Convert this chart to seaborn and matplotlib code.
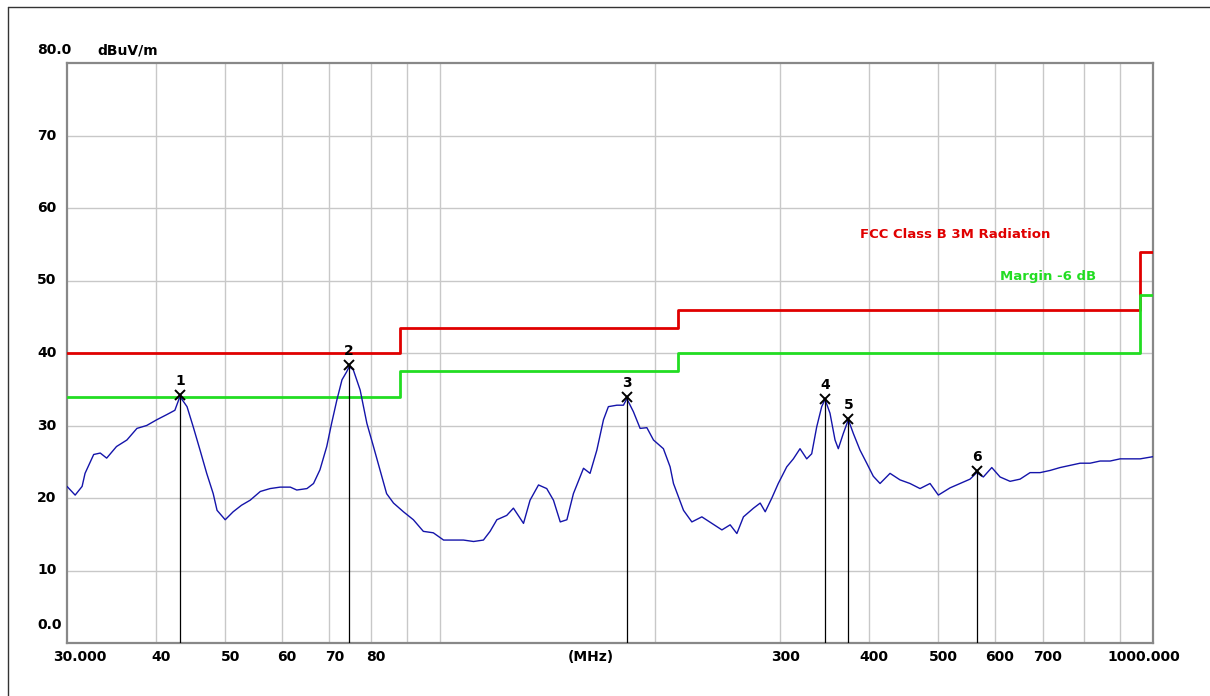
import numpy as np
import pandas as pd
import matplotlib
matplotlib.use("Agg")
import matplotlib.pyplot as plt
import matplotlib.transforms as mtransforms
from matplotlib.lines import Line2D
import seaborn as sns

# --- measured trace (MHz, dBuV/m) ---
freq_mhz = [30.0, 30.8, 31.5, 31.8, 32.7, 33.4, 34.1, 35.2, 36.4, 37.6, 38.8, 40.1,
            41.4, 42.5, 43.2, 44.2, 45.1, 46.1, 47.1, 48.1, 48.7, 50.0, 51.3, 52.7,
            54.2, 56.0, 57.8, 59.7, 61.7, 63.0, 65.1, 66.5, 67.9, 69.4, 70.5, 71.7,
            72.9, 74.0, 74.6, 75.6, 77.3, 79.0, 80.7, 82.4, 84.2, 86.1, 88.9, 91.8,
            94.8, 97.9, 101.2, 104.5, 107.9, 111.5, 115.1, 117.6, 120.2, 124.1, 126.8,
            131.0, 133.8, 137.5, 141.2, 144.3, 147.5, 150.7, 153.9, 159.0, 162.4,
            166.0, 169.6, 172.3, 177.1, 180.9, 182.9, 186.8, 190.9, 195.1, 199.3,
            205.8, 210.3, 212.6, 216.0, 219.6, 225.6, 233.0, 240.7, 248.6, 255.3,
            260.9, 266.5, 275.3, 281.3, 285.9, 292.1, 298.2, 306.5, 313.1, 319.9,
            326.9, 332.2, 337.6, 343.1, 346.8, 352.4, 358.2, 362.0, 367.9, 373.9,
            380.0, 388.3, 396.8, 405.3, 414.2, 427.8, 441.8, 456.3, 471.3, 486.8,
            500.0, 519.3, 536.3, 553.9, 566.0, 578.2, 594.2, 610.3, 630.3, 651.0,
            672.4, 694.4, 717.3, 740.8, 765.2, 790.3, 816.2, 843.1, 870.8, 899.3,
            928.9, 959.4, 1000.0]
level_dbuv = [21.6, 20.4, 21.6, 23.4, 26.0, 26.2, 25.5, 27.1, 28.0, 29.6, 30.0, 30.8,
              31.5, 32.1, 34.0, 32.6, 29.8, 26.6, 23.4, 20.6, 18.3, 17.0, 18.1, 19.0,
              19.7, 20.9, 21.3, 21.5, 21.5, 21.1, 21.3, 22.0, 23.9, 27.1, 30.3, 33.5,
              36.3, 37.4, 38.1, 37.7, 34.9, 30.3, 27.1, 23.9, 20.6, 19.3, 18.1, 17.0,
              15.4, 15.2, 14.2, 14.2, 14.2, 14.0, 14.2, 15.4, 17.0, 17.6, 18.6, 16.5,
              19.7, 21.8, 21.3, 19.7, 16.7, 17.0, 20.6, 24.1, 23.4, 26.6, 30.8, 32.6,
              32.8, 32.8, 33.7, 31.9, 29.6, 29.7, 28.0, 26.8, 24.3, 22.0, 20.2, 18.3,
              16.7, 17.4, 16.5, 15.6, 16.3, 15.1, 17.4, 18.6, 19.3, 18.1, 20.0, 22.0,
              24.3, 25.4, 26.8, 25.4, 26.1, 29.8, 32.6, 33.6, 31.7, 28.0, 26.8, 28.9,
              30.8, 28.9, 26.6, 24.8, 23.0, 22.0, 23.4, 22.5, 22.0, 21.3, 22.0, 20.4,
              21.4, 22.0, 22.6, 23.5, 22.9, 24.2, 22.9, 22.3, 22.6, 23.5, 23.5, 23.8,
              24.2, 24.5, 24.8, 24.8, 25.1, 25.1, 25.4, 25.4, 25.4, 25.7]

# --- limit lines ---
limit_freq = [30, 88, 216, 960, 1000]
fcc_limit = [40.0, 43.5, 46.0, 54.0, 54.0]
margin_limit = [34.0, 37.5, 40.0, 48.0, 48.0]

# --- peak markers ---
peak_no = ["1", "2", "3", "4", "5", "6"]
peak_freq = [43.2, 74.6, 182.9, 346.8, 373.9, 566.0]
peak_level = [34.2, 38.3, 33.9, 33.7, 30.9, 23.7]

# --- axis labels ---
x_ticks = [30, 40, 50, 60, 70, 80, 300, 400, 500, 600, 700, 1000]
x_labels = ["30.000", "40", "50", "60", "70", "80", "300", "400", "500", "600", "700", "1000.000"]
y_ticks = [10, 20, 30, 40, 50, 60, 70]
grid_x = [40, 50, 60, 70, 80, 90, 100, 200, 300, 400, 500, 600, 700, 800, 900]

sns.set_style("white")
plt.rcParams["font.family"] = ["DejaVu Sans"]
plt.rcParams["text.color"] = "black"

W, H = 1210, 696
fig = plt.figure(figsize=(W / 100, H / 100), dpi=100)
ax = fig.add_axes([67 / W, 1 - 643 / H, (1153 - 67) / W, (643 - 63) / H])

trace = pd.DataFrame({"freq": freq_mhz, "level": level_dbuv})
limits = pd.DataFrame({"freq": limit_freq, "fcc": fcc_limit, "margin": margin_limit})

ax.set_xscale("log")
ax.set_xlim(30, 1000)
ax.set_ylim(0, 80)

for g in grid_x:
    ax.axvline(g, color="#c8c8c8", lw=1, zorder=0)
for g in y_ticks:
    ax.axhline(g, color="#c8c8c8", lw=1, zorder=0)

sns.lineplot(data=limits, x="freq", y="fcc", ax=ax, color="#e00000", lw=2,
             drawstyle="steps-post", estimator=None, sort=False, zorder=3)
sns.lineplot(data=limits, x="freq", y="margin", ax=ax, color="#22dd22", lw=2,
             drawstyle="steps-post", estimator=None, sort=False, zorder=3)
sns.lineplot(data=trace, x="freq", y="level", ax=ax, color="#1414aa", lw=1.0,
             estimator=None, sort=False, zorder=4)

# markers
for n, f, v in zip(peak_no, peak_freq, peak_level):
    ax.plot([f, f], [0, v], color="black", lw=0.9, zorder=5)
    ax.plot(f, v, marker="x", ms=7, mew=1.4, color="black", zorder=6)
    ax.annotate(n, xy=(f, v), xytext=(0, 10), textcoords="offset points",
                ha="center", va="center", fontsize=10, fontweight="bold", color="black")

ax.text(388, 56.4, "FCC Class B 3M Radiation", color="#e00000", fontsize=9.5,
        fontweight="bold", ha="left", va="center")
ax.text(610, 50.6, "Margin -6 dB", color="#22dd22", fontsize=9.5,
        fontweight="bold", ha="left", va="center")

ax.set_xticks([])
ax.set_yticks([])
ax.minorticks_off()
ax.set_xlabel("")
ax.set_ylabel("")
for s in ax.spines.values():
    s.set_color("#888888")
    s.set_linewidth(1.6)

# x tick labels (custom placement)
for f, lab in zip(x_ticks, x_labels):
    dx = 5
    if lab == "30.000":
        dx = 13
    elif lab == "1000.000":
        dx = -9
    ax.annotate(lab, xy=(f, 0), xycoords=("data", "axes fraction"),
                xytext=(dx * 0.72, -10), textcoords="offset points",
                ha="center", va="center", fontsize=10, fontweight="bold", color="black")
ax.annotate("(MHz)", xy=(163, 0), xycoords=("data", "axes fraction"),
            xytext=(0, -10), textcoords="offset points",
            ha="center", va="center", fontsize=10, fontweight="bold", color="black")

# y tick labels, left aligned
ytrans = mtransforms.blended_transform_factory(fig.transFigure, ax.transData)
for t in y_ticks:
    fig.text(37 / W, t, str(t), transform=ytrans, ha="left", va="center",
             fontsize=10, fontweight="bold", color="black")
fig.text(37 / W, 1 - 50 / H, "80.0", ha="left", va="center", fontsize=10,
         fontweight="bold", color="black")
fig.text(97 / W, 1 - 50 / H, "dBuV/m", ha="left", va="center", fontsize=10,
         fontweight="bold", color="black")
fig.text(37 / W, 1 - 625 / H, "0.0", ha="left", va="center", fontsize=10,
         fontweight="bold", color="black")

# outer frame
fig.add_artist(Line2D([8 / W, 1], [1 - 7 / H, 1 - 7 / H], color="#333333", lw=1))
fig.add_artist(Line2D([8 / W, 8 / W], [0, 1 - 7 / H], color="#333333", lw=1))

fig.savefig("out.png", dpi=100)
